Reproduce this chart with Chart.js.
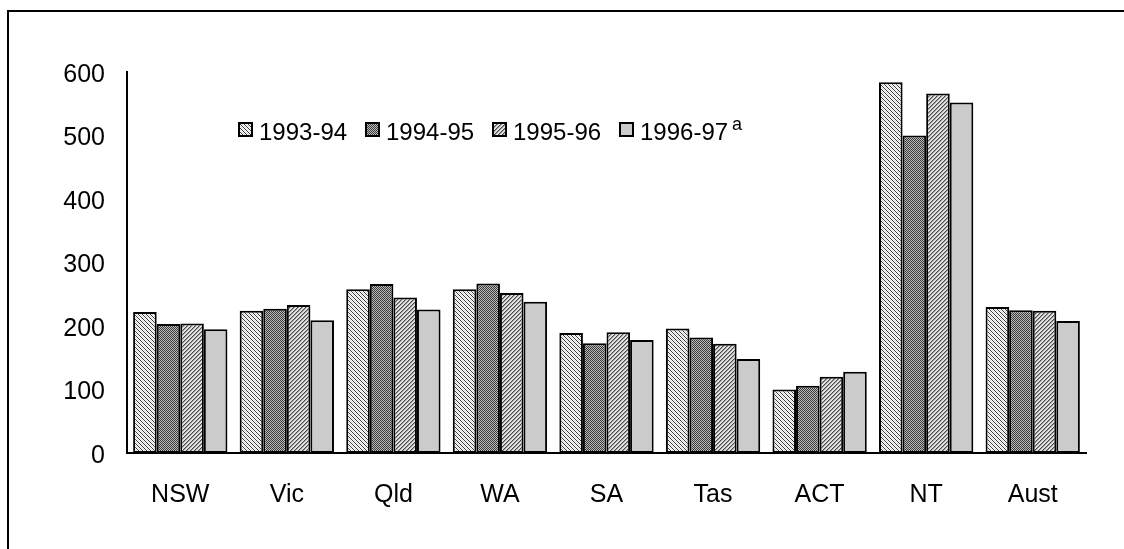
<!DOCTYPE html>
<html>
<head>
<meta charset="utf-8">
<script src="https://cdn.jsdelivr.net/npm/chart.js@4/dist/chart.umd.min.js"></script>
<style>
  html, body { margin: 0; padding: 0; background: #fff; }
  canvas { display: block; }
</style>
</head>
<body>
<canvas id="chart" width="1124" height="549"></canvas>
<script>
// Regions and annual values
const regions = ['NSW', 'Vic', 'Qld', 'WA', 'SA', 'Tas', 'ACT', 'NT', 'Aust'];
const years = ['1993-94', '1994-95', '1995-96', '1996-97'];
const yearNotes = ['', '', '', 'a'];
const values9394 = [222, 224, 258, 258, 189, 196, 100, 584, 230];
const values9495 = [203, 227, 266, 267, 173, 182, 106, 500, 225];
const values9596 = [204, 233, 245, 252, 190, 172, 120, 566, 224];
const values9697 = [195, 209, 226, 238, 178, 148, 128, 552, 208];
const yMin = 0, yMax = 600, yStep = 100;

const FONT = '"Liberation Sans", Arial, Helvetica, sans-serif';

// Small tiled fills for the bars
function makePattern(size, painter) {
  const c = document.createElement('canvas');
  c.width = size; c.height = size;
  const g = c.getContext('2d');
  for (let y = 0; y < size; y++) {
    for (let x = 0; x < size; x++) {
      g.fillStyle = painter(x, y);
      g.fillRect(x, y, 1, 1);
    }
  }
  return g.createPattern(c, 'repeat');
}
const ctx = document.getElementById('chart').getContext('2d');
const fills = [
  // back-slash hatch
  makePattern(4, (x, y) => ((x - y + 8) % 4 === 0 ? '#3a3a3a' : ((x - y + 8) % 4 === 2 ? '#d8d8d8' : '#ffffff'))),
  // dense dotted grey
  makePattern(2, (x, y) => ((x + y) % 2 === 0 ? '#383838' : '#bcbcbc')),
  // forward-slash hatch
  makePattern(4, (x, y) => ((x + y) % 4 === 0 ? '#4a4a4a' : ((x + y) % 4 === 1 ? '#9a9a9a' : '#e2e2e2'))),
  // plain light grey
  '#cbcbcb'
];
const seriesValues = [values9394, values9495, values9596, values9697];

const whiteBackground = {
  id: 'whiteBackground',
  beforeDraw(chart) {
    const c = chart.ctx;
    c.save();
    c.fillStyle = '#ffffff';
    c.fillRect(0, 0, chart.width, chart.height);
    c.restore();
  }
};

// Outer frame (top and left edges)
const framePlugin = {
  id: 'frame',
  afterDraw(chart) {
    const c = chart.ctx;
    c.save();
    c.strokeStyle = '#000';
    c.lineWidth = 2;
    c.beginPath();
    c.moveTo(chart.width, 11);
    c.lineTo(8, 11);
    c.lineTo(8, chart.height);
    c.stroke();
    c.restore();
  }
};

// Legend row inside the plot area
const insideLegend = {
  id: 'insideLegend',
  afterDraw(chart) {
    const c = chart.ctx;
    const startX = 239, step = 127, boxTop = 123, box = 13, midY = 133;
    c.save();
    chart.data.datasets.forEach((ds, i) => {
      const x = startX + i * step;
      c.fillStyle = ds.backgroundColor;
      c.fillRect(x, boxTop, box, box);
      c.strokeStyle = '#000';
      c.lineWidth = 2;
      c.strokeRect(x, boxTop, box, box);
      c.fillStyle = '#000';
      c.font = '24px ' + FONT;
      c.textBaseline = 'middle';
      c.textAlign = 'left';
      c.fillText(ds.label, x + 20, midY);
      if (yearNotes[i]) {
        const w = c.measureText(ds.label).width;
        c.font = '18px ' + FONT;
        c.fillText(yearNotes[i], x + 20 + w + 4, midY - 8);
      }
    });
    c.restore();
  }
};

new Chart(ctx, {
  type: 'bar',
  data: {
    labels: regions,
    datasets: years.map((y, i) => ({
      label: y,
      data: seriesValues[i],
      backgroundColor: fills[i],
      borderColor: '#000',
      borderWidth: 2,
      borderSkipped: false,
      categoryPercentage: 0.885,
      barPercentage: 1.0
    }))
  },
  options: {
    responsive: false,
    devicePixelRatio: 1,
    animation: false,
    layout: { padding: { left: 0, right: 38, top: 72, bottom: 0 } },
    plugins: {
      legend: { display: false },
      tooltip: { enabled: false }
    },
    scales: {
      x: {
        grid: { display: false, drawTicks: false },
        border: { display: true, color: '#000', width: 2 },
        ticks: { color: '#000', font: { family: FONT, size: 25 }, padding: 27, maxRotation: 0 },
        afterFit(scale) { scale.height = 96; }
      },
      y: {
        min: yMin,
        max: yMax,
        grid: { display: false, drawTicks: false },
        border: { display: true, color: '#000', width: 2 },
        ticks: { stepSize: yStep, color: '#000', font: { family: FONT, size: 25 }, padding: 22, labelOffset: 3 },
        afterFit(scale) { scale.width = 127; }
      }
    }
  },
  plugins: [whiteBackground, framePlugin, insideLegend]
});
</script>
</body>
</html>
